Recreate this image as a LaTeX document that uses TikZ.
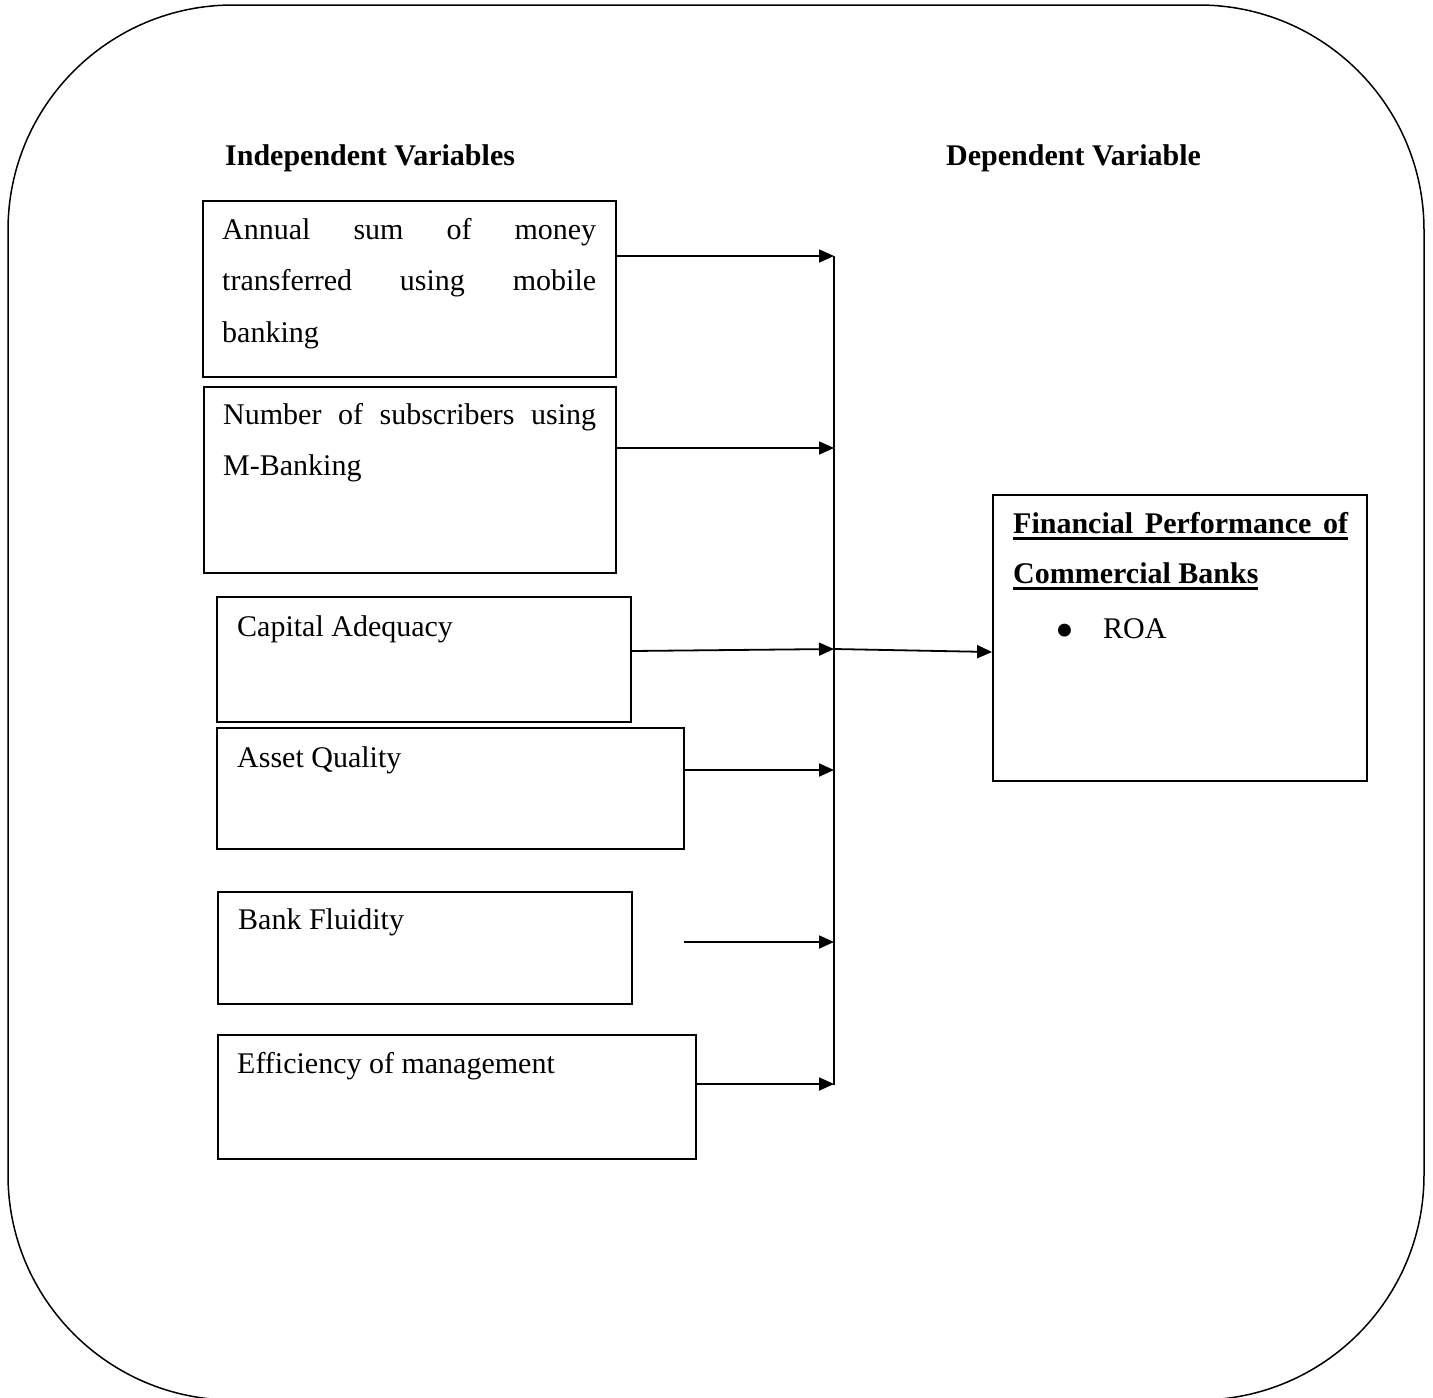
\documentclass[tikz,border=0pt]{standalone}
\usepackage{fontspec}
\setmainfont{Liberation Serif}
\usetikzlibrary{arrows.meta,fit}
\newcommand\myul[1]{\setbox0\hbox{#1}\rlap{\rule[-6.5pt]{\wd0}{2.5pt}}\box0}
\tikzset{
  box/.style={draw, line width=1.8pt, inner sep=0pt},
  txt/.style={anchor=base west, inner sep=0pt, font=\fontsize{30}{36}\selectfont},
  hdr/.style={txt, font=\fontsize{30}{36}\selectfont\bfseries},
  arr/.style={line width=1.8pt, -{Triangle[length=15pt,width=13pt]}},
  bus/.style={line width=1.6pt},
}
\begin{document}
\begin{tikzpicture}[x=1pt,y=-1pt]
\useasboundingbox (0,0) rectangle (1433,1398);
% outer frame
\node[draw, line width=1.5pt, rounded corners=225pt, inner sep=0pt, fit={(8,5) (1424,1400)}] (frame) {};
% headers
\node[hdr] (hi) at (225,165) {Independent Variables};
\node[hdr] (hd) at (946,165) {Dependent Variable};
% boxes
\node[box, fit={(203,201) (616,377)}] (A) {};
\node[box, fit={(204,387) (616,573)}] (B) {};
\node[box, fit={(217,597) (631,722)}] (C) {};
\node[box, fit={(217,728) (684,849)}] (D) {};
\node[box, fit={(218,892) (632,1004)}] (E) {};
\node[box, fit={(218,1035) (696,1159)}] (F) {};
\node[box, fit={(993,495) (1367,781)}] (R) {};
% texts
\node[txt] (a1) at (222,239) {\makebox[374pt][s]{Annual sum of money}};
\node[txt] (a2) at (222,290.5) {\makebox[374pt][s]{transferred using mobile}};
\node[txt] (a3) at (222,342) {banking};
\node[txt] (b1) at (223,424) {\makebox[373pt][s]{Number of subscribers using}};
\node[txt] (b2) at (223,475.5) {M-Banking};
\node[txt] (c1) at (237,636) {Capital Adequacy};
\node[txt] (d1) at (237,767) {Asset Quality};
\node[txt] (e1) at (238,929) {Bank Fluidity};
\node[txt] (f1) at (237,1073) {Efficiency of management};
\node[txt, font=\fontsize{30}{36}\selectfont\bfseries] (r1) at (1013,533) {\myul{\makebox[335pt][s]{Financial Performance of}}};
\node[txt, font=\fontsize{30}{36}\selectfont\bfseries] (r2) at (1013,583) {\myul{Commercial Banks}};
\node[txt] (r3) at (1055.5,638) {\raisebox{-10pt}{\fontsize{54}{54}\selectfont •}\hspace*{28.5pt}ROA};
% bus and arrows
\coordinate (p1) at (834,256);
\coordinate (p2) at (834,448);
\coordinate (p3) at (834,649);
\coordinate (c3) at (631,651);
\coordinate (p4) at (834,770);
\coordinate (s5) at (684,942);
\coordinate (p5) at (834,942);
\coordinate (p6) at (834,1084);
\coordinate (pb) at (834,1085);
\coordinate (rr) at (994,652);
\draw[bus] (p1) -- (pb);
\draw[arr] (A.east |- p1) -- (p1);
\draw[arr] (B.east |- p2) -- (p2);
\draw[arr] (C.east |- c3) -- (p3);
\draw[arr] (D.east |- p4) -- (p4);
\draw[arr] (s5) -- (p5);
\draw[arr] (F.east |- p6) -- (p6);
\draw[arr] (p3) -- (R.west |- rr);
\end{tikzpicture}
\end{document}
